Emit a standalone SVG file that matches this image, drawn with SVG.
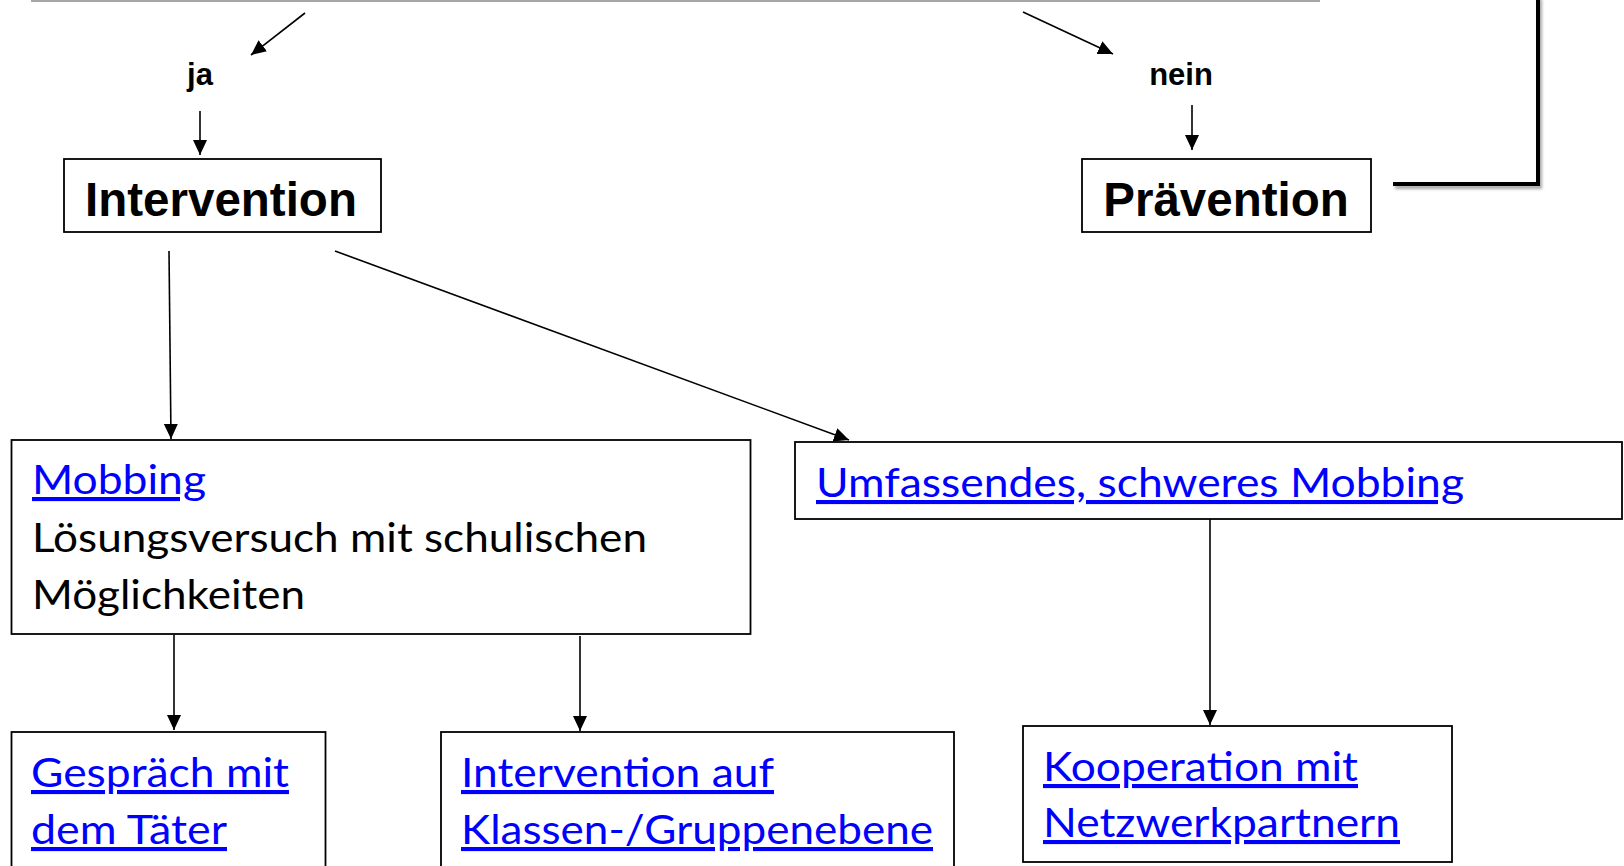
<svg xmlns="http://www.w3.org/2000/svg" width="1624" height="866" viewBox="0 0 1624 866">
<style>
.box{fill:#fff;stroke:#000;stroke-width:1.8}
.con{stroke:#000;stroke-width:1.6;fill:none;marker-end:url(#arr)}
.big{font-family:"Liberation Sans",Arial,sans-serif;font-weight:bold;font-size:47.5px;fill:#000;text-anchor:middle}
.lbl{font-family:"Liberation Sans",Arial,sans-serif;font-weight:bold;font-size:31px;fill:#000;text-anchor:middle}
.txt{font-family:Lato,"Open Sans",sans-serif;font-size:41px;fill:#000}
.lnk{font-family:Lato,"Open Sans",sans-serif;font-size:41px;fill:#0000ff;text-decoration:underline}
</style>
<defs>
<marker id="arr" markerUnits="userSpaceOnUse" markerWidth="16" markerHeight="16" refX="15" refY="7" orient="auto">
<path d="M0,0 L15,7 L0,14 z" fill="#000"/>
</marker>
<filter id="sh" x="-10%" y="-10%" width="130%" height="130%">
<feDropShadow dx="2" dy="3" stdDeviation="1.5" flood-color="#000" flood-opacity="0.35"/>
</filter>
</defs>
<line x1="31" y1="1" x2="1320" y2="1" stroke="#a6a6a6" stroke-width="2"/>
<g id="connectors">
<line class="con" x1="305" y1="13" x2="251" y2="55"/>
<line class="con" x1="1023" y1="12" x2="1113" y2="54"/>
<line class="con" x1="200" y1="111" x2="200" y2="155"/>
<line class="con" x1="1192" y1="105" x2="1192" y2="150"/>
<line class="con" x1="169" y1="251" x2="171" y2="439"/>
<line class="con" x1="335" y1="251" x2="849" y2="440"/>
<line class="con" x1="174" y1="635" x2="174" y2="730"/>
<line class="con" x1="580" y1="636" x2="580" y2="731"/>
<line class="con" x1="1210" y1="519" x2="1210" y2="725"/>
<polyline points="1393,184 1538,184 1538,-4" fill="none" stroke="#000" stroke-width="4" filter="url(#sh)"/>
</g>
<g id="label-ja"><text class="lbl" x="200" y="85">ja</text></g>
<g id="label-nein"><text class="lbl" x="1181" y="85">nein</text></g>
<g id="node-intervention">
<rect class="box" x="64" y="159" width="317" height="73"/>
<text class="big" x="221" y="216">Intervention</text>
</g>
<g id="node-praevention">
<rect class="box" x="1082" y="159" width="289" height="73"/>
<text class="big" x="1226" y="216">Prävention</text>
</g>
<g id="node-mobbing">
<rect class="box" x="11.5" y="440" width="739" height="194"/>
<text class="lnk" x="32" y="494" textLength="174" lengthAdjust="spacingAndGlyphs">Mobbing</text>
<text class="txt" x="32" y="552" textLength="615" lengthAdjust="spacingAndGlyphs">Lösungsversuch mit schulischen</text>
<text class="txt" x="32" y="609" textLength="273" lengthAdjust="spacingAndGlyphs">Möglichkeiten</text>
</g>
<g id="node-umfassend">
<rect class="box" x="795" y="442" width="827" height="77"/>
<text class="lnk" x="816" y="497" textLength="648" lengthAdjust="spacingAndGlyphs">Umfassendes, schweres Mobbing</text>
</g>
<g id="node-gespraech">
<rect class="box" x="11.5" y="732" width="314" height="140"/>
<text class="lnk" x="31" y="787" textLength="258" lengthAdjust="spacingAndGlyphs">Gespräch mit</text>
<text class="lnk" x="31" y="844" textLength="196" lengthAdjust="spacingAndGlyphs">dem Täter</text>
</g>
<g id="node-klasse">
<rect class="box" x="441" y="732" width="513" height="140"/>
<text class="lnk" x="461" y="787" textLength="313" lengthAdjust="spacingAndGlyphs">Intervention auf</text>
<text class="lnk" x="461" y="844" textLength="472" lengthAdjust="spacingAndGlyphs">Klassen-/Gruppenebene</text>
</g>
<g id="node-kooperation">
<rect class="box" x="1023" y="726" width="429" height="136"/>
<text class="lnk" x="1043" y="781" textLength="315" lengthAdjust="spacingAndGlyphs">Kooperation mit</text>
<text class="lnk" x="1043" y="837" textLength="357" lengthAdjust="spacingAndGlyphs">Netzwerkpartnern</text>
</g>
</svg>
